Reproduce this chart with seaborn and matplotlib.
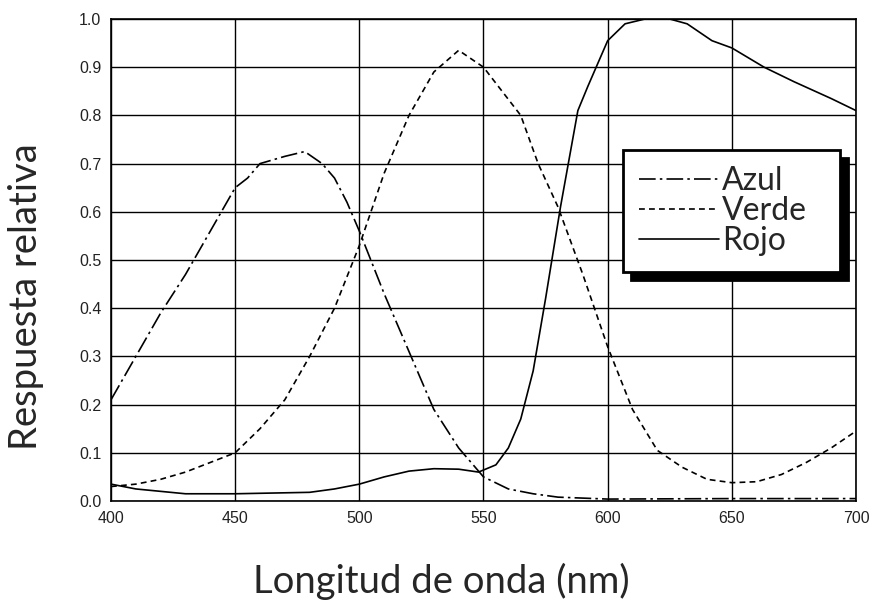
import numpy as np
import pandas as pd
import seaborn as sns
import matplotlib.pyplot as plt

# curves
azul_nm = [400, 410, 420, 430, 440, 450, 455, 460, 470, 478, 485, 490, 495, 500,
           510, 520, 530, 540, 550, 560, 570, 580, 600, 650, 700]
azul = [0.21, 0.30, 0.39, 0.47, 0.56, 0.65, 0.67, 0.70, 0.715, 0.725, 0.70, 0.67, 0.62, 0.56,
        0.43, 0.31, 0.19, 0.11, 0.05, 0.025, 0.015, 0.008, 0.004, 0.005, 0.005]

verde_nm = [400, 410, 420, 430, 440, 450, 460, 470, 480, 490, 500, 510, 520, 530, 540,
            550, 565, 572, 580, 590, 600, 610, 620, 630, 640, 650, 660, 670, 680, 690, 700]
verde = [0.03, 0.035, 0.045, 0.06, 0.08, 0.10, 0.15, 0.21, 0.30, 0.40, 0.53, 0.68, 0.80, 0.89, 0.935,
         0.90, 0.80, 0.70, 0.61, 0.47, 0.32, 0.19, 0.105, 0.07, 0.045, 0.038, 0.04, 0.055, 0.08, 0.11, 0.145]

rojo_nm = [400, 410, 420, 430, 450, 470, 480, 490, 500, 510, 520, 530, 540, 548, 555,
           560, 565, 570, 575, 581, 588, 592, 600, 607, 615, 625, 632, 642, 650, 663, 675, 690, 700]
rojo = [0.035, 0.025, 0.02, 0.015, 0.015, 0.017, 0.018, 0.025, 0.035, 0.05, 0.062, 0.067, 0.066, 0.06, 0.075,
        0.11, 0.17, 0.27, 0.42, 0.61, 0.81, 0.86, 0.955, 0.99, 1.0, 1.0, 0.99, 0.955, 0.94, 0.90, 0.87, 0.835, 0.81]

x_ticks = [400, 450, 500, 550, 600, 650, 700]
y_ticks = [0.0, 0.1, 0.2, 0.3, 0.4, 0.5, 0.6, 0.7, 0.8, 0.9, 1.0]

sns.set_style("white")
plt.rcParams['font.family'] = ['Liberation Sans', 'DejaVu Sans']

fig = plt.figure(figsize=(8.76, 6.08), dpi=100)
ax = fig.add_axes([111 / 876, 1 - 501 / 608, 745 / 876, 482 / 608])

sns.lineplot(x=azul_nm, y=azul, ax=ax, color="black", lw=1.2,
             linestyle=(0, (10, 2.5, 1.5, 2.5)), label="Azul")
sns.lineplot(x=verde_nm, y=verde, ax=ax, color="black", lw=1.2,
             linestyle=(0, (3.5, 2.5)), label="Verde")
sns.lineplot(x=rojo_nm, y=rojo, ax=ax, color="black", lw=1.2,
             linestyle="-", label="Rojo")

ax.set_xlim(400, 700)
ax.set_ylim(0, 1.0)
ax.set_xticks(x_ticks)
ax.set_yticks(y_ticks)
ax.set_yticklabels([f"{v:.1f}" for v in y_ticks])
ax.grid(True, color="black", lw=1.0)
ax.set_axisbelow(True)
for s in ax.spines.values():
    s.set_color("black")
    s.set_linewidth(1.2)
ax.tick_params(length=0, labelsize=11.5, pad=7, colors="#222222")
ax.set_xlabel("")
ax.set_ylabel("")

# legend box stretched to the width of the one in the picture
leg = ax.legend(loc="upper left", bbox_to_anchor=(0.687, 0.475, 0.291, 0.253),
                mode="expand", frameon=True,
                fancybox=False, edgecolor="black", framealpha=1,
                shadow={'ox': 6, 'oy': -6, 'color': 'black', 'alpha': 1},
                prop={'family': ['Lato', 'DejaVu Sans'], 'size': 23},
                handlelength=2.5, handletextpad=0.1, labelspacing=0.0,
                borderpad=0.5, borderaxespad=0)
leg.get_frame().set_linewidth(2.0)

fig.text(26 / 876, 1 - 297 / 608, "Respuesta relativa", rotation=90,
         ha="center", va="center", fontsize=27.5, family=['Lato', 'DejaVu Sans'])
fig.text(441 / 876, 1 - 593 / 608, "Longitud de onda (nm)",
         ha="center", va="baseline", fontsize=27.5, family=['Lato', 'DejaVu Sans'])

fig.savefig("out.png", dpi=100)
